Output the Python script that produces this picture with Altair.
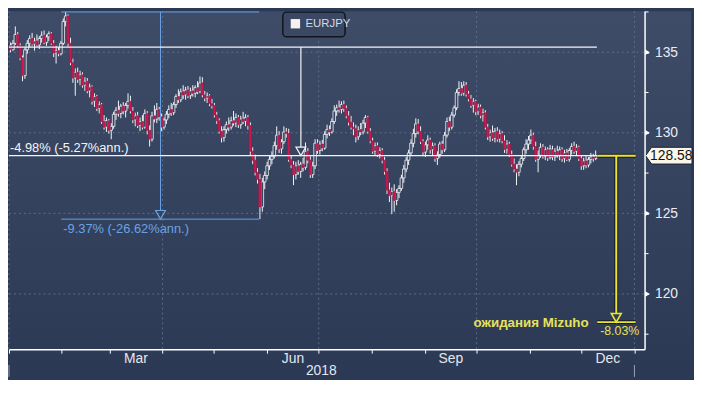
import altair as alt
import pandas as pd

# ---------------- data (EURJPY daily candles, 2018) ----------------
opens = [
    135.25,135.40,135.15,135.55,136.10,135.40,134.65,133.55,135.15,135.55,
    135.85,135.50,135.70,135.45,135.85,136.05,135.60,135.95,136.15,135.55,
    134.95,135.10,134.90,135.55,136.90,137.25,135.55,134.35,133.40,133.75,
    133.30,133.60,132.95,133.20,132.60,132.85,131.95,132.25,131.50,131.75,
    130.70,130.35,130.75,130.15,130.40,131.15,131.40,131.20,131.65,131.35,
    131.70,131.95,131.35,130.80,131.05,130.45,130.70,130.35,131.20,130.15,
    129.60,131.05,130.85,131.45,131.00,130.35,130.80,131.15,131.45,131.25,
    131.75,132.25,132.05,132.55,132.35,132.65,132.30,132.60,132.45,132.80,
    132.55,133.10,132.35,132.15,132.30,131.80,131.70,131.10,130.75,130.10,
    129.70,130.20,130.50,130.35,130.75,130.60,130.95,130.50,130.85,130.70,
    130.95,130.45,128.85,128.30,127.55,127.10,125.40,126.95,127.35,127.95,
    128.35,128.55,129.20,129.85,129.00,129.45,130.05,129.95,128.35,128.00,
    127.40,127.95,127.60,128.05,127.85,128.85,128.30,127.40,127.95,129.35,
    128.90,129.30,129.05,129.90,130.20,130.05,130.70,131.35,131.55,131.45,
    131.75,131.50,131.05,130.65,130.35,130.25,129.75,130.20,130.05,130.60,
    130.95,130.10,129.50,128.85,129.20,128.65,128.90,128.30,127.60,126.45,
    126.10,126.35,125.80,126.30,126.55,127.20,127.75,128.30,128.75,129.35,
    129.95,130.55,130.10,129.45,128.80,129.25,129.55,128.95,129.20,128.40,
    128.65,129.30,128.95,129.85,130.70,130.35,131.10,131.55,132.50,132.75,
    132.45,132.95,132.40,132.10,131.70,131.95,131.30,131.60,131.05,131.25,
    130.35,129.75,130.00,129.65,130.10,129.60,129.95,129.50,128.95,129.30,
    128.65,128.05,127.75,127.55,128.05,128.40,128.95,129.30,129.55,129.85,
    129.15,128.35,128.60,129.10,128.55,128.95,128.45,128.95,128.50,128.85,
    128.60,128.95,128.40,128.75,128.35,128.90,129.15,128.85,129.10,128.40,
    127.95,128.25,128.00,128.35,128.50,128.40,
]
highs = [
    135.55,135.60,135.75,136.60,136.25,135.55,134.80,135.30,135.75,136.05,
    136.20,135.90,136.10,136.00,136.30,136.35,136.10,136.30,136.25,135.75,
    135.40,135.30,135.70,137.10,137.50,137.35,135.90,134.60,134.00,134.05,
    133.85,133.75,133.45,133.40,133.05,132.95,132.45,132.35,131.95,131.85,
    131.10,130.95,130.85,130.60,131.30,131.60,132.00,131.80,131.90,131.85,
    132.45,132.30,131.60,131.25,131.30,130.95,131.10,131.45,131.35,130.45,
    131.30,131.70,131.85,131.60,131.20,130.95,131.35,131.70,131.85,131.90,
    132.40,132.70,132.75,132.95,132.85,132.90,132.80,132.95,132.95,133.20,
    133.50,133.45,132.60,132.50,132.40,132.10,131.85,131.30,130.90,130.40,
    130.40,130.70,130.95,131.00,131.35,131.20,131.10,131.05,131.30,131.15,
    131.10,130.65,129.10,128.65,127.80,127.45,127.20,127.60,128.20,128.55,
    128.85,129.45,130.40,130.10,129.60,130.40,130.30,130.25,128.60,128.25,
    128.20,128.30,128.20,128.45,129.40,129.05,128.55,128.20,129.60,129.60,
    129.50,129.55,130.10,130.50,130.45,130.90,131.70,131.75,132.00,131.95,
    132.00,131.70,131.35,131.05,130.65,130.50,130.40,130.60,130.80,131.10,
    131.05,130.30,129.70,129.40,129.40,129.10,129.05,128.50,127.80,126.90,
    126.60,126.80,126.50,126.75,127.40,128.00,128.50,128.95,129.60,130.25,
    130.90,130.85,130.40,129.60,129.45,129.85,129.70,129.40,129.35,128.85,
    129.45,129.50,130.05,130.95,131.00,131.30,131.70,132.70,133.20,133.15,
    133.20,133.15,132.60,132.35,132.15,132.05,131.80,131.75,131.50,131.40,
    130.55,130.20,130.45,130.30,130.35,130.20,130.10,129.85,129.55,129.45,
    128.90,128.40,128.05,128.25,128.60,129.10,129.60,129.80,130.20,130.00,
    129.45,128.90,129.35,129.30,129.15,129.10,129.25,129.20,129.05,129.20,
    129.15,129.10,128.95,129.00,129.05,129.35,129.45,129.30,129.20,128.60,
    128.45,128.55,128.50,128.75,128.70,128.90,
]
lows = [
    135.05,135.00,135.10,135.45,135.30,134.50,133.20,133.35,134.90,135.30,
    135.40,135.10,135.35,135.20,135.60,135.50,135.40,135.70,135.45,134.70,
    134.30,134.75,134.80,135.45,136.60,135.35,134.20,133.10,132.30,133.10,
    132.95,132.80,132.60,132.45,132.20,131.75,131.60,131.35,131.20,130.55,
    130.20,130.05,129.95,129.60,130.25,130.80,131.00,130.90,131.15,130.95,
    131.50,131.20,130.60,130.40,130.30,130.10,130.20,130.25,129.90,129.15,
    129.45,130.65,130.60,130.75,130.10,130.20,130.55,130.90,131.05,131.10,
    131.55,131.85,131.90,132.10,132.05,132.15,132.10,132.25,132.20,132.40,
    132.45,132.20,131.95,131.85,131.65,131.50,130.95,130.55,129.95,129.40,
    129.45,129.95,130.10,130.20,130.45,130.35,130.30,130.25,130.55,130.40,
    130.20,128.60,128.05,127.35,126.85,124.64,125.10,126.50,127.10,127.70,
    128.05,128.40,128.95,128.75,128.70,129.30,129.70,128.20,127.80,126.75,
    127.10,127.40,127.20,127.60,127.70,128.10,127.20,127.20,127.75,128.70,
    128.65,128.85,128.95,129.65,129.80,129.95,130.55,131.05,131.25,131.20,
    131.30,130.90,130.45,130.20,129.85,129.40,129.55,129.85,129.90,130.30,
    129.95,129.35,128.70,128.60,128.50,128.40,128.10,127.40,126.20,125.70,
    124.95,125.10,125.50,125.95,126.40,126.90,127.55,128.00,128.55,129.10,
    129.70,129.90,129.30,128.55,128.50,128.95,128.70,128.60,128.20,128.00,
    128.45,128.70,128.80,129.70,130.10,130.20,130.95,131.40,132.30,132.30,
    132.30,132.25,131.95,131.55,131.25,131.10,131.10,130.90,130.70,130.20,
    129.55,129.45,129.50,129.40,129.45,129.40,129.35,128.75,128.70,128.50,
    127.90,127.55,126.75,127.30,127.85,128.25,128.70,128.95,129.30,128.95,
    128.20,127.55,128.45,128.40,128.30,128.25,128.35,128.30,128.25,128.45,
    128.30,128.20,128.15,128.25,128.20,128.65,128.70,128.55,128.25,127.70,
    127.70,127.80,127.85,128.10,128.20,128.30,
]
closes = [
    135.40,135.15,135.55,136.10,135.40,134.65,133.55,135.15,135.55,135.85,
    135.50,135.70,135.45,135.85,136.05,135.60,135.95,136.15,135.55,134.95,
    135.10,134.90,135.55,136.90,137.25,135.55,134.35,133.40,133.75,133.30,
    133.60,132.95,133.20,132.60,132.85,131.95,132.25,131.50,131.75,130.70,
    130.35,130.75,130.15,130.40,131.15,131.40,131.20,131.65,131.35,131.70,
    131.95,131.35,130.80,131.05,130.45,130.70,130.35,131.20,130.15,129.60,
    131.05,130.85,131.45,131.00,130.35,130.80,131.15,131.45,131.25,131.75,
    132.25,132.05,132.55,132.35,132.65,132.30,132.60,132.45,132.80,132.55,
    133.10,132.35,132.15,132.30,131.80,131.70,131.10,130.75,130.10,129.70,
    130.20,130.50,130.35,130.75,130.60,130.95,130.50,130.85,130.70,130.95,
    130.45,128.85,128.30,127.55,127.10,125.40,126.95,127.35,127.95,128.35,
    128.55,129.20,129.85,129.00,129.45,130.05,129.95,128.35,128.00,127.40,
    127.95,127.60,128.05,127.85,128.85,128.30,127.40,127.95,129.35,128.90,
    129.30,129.05,129.90,130.20,130.05,130.70,131.35,131.55,131.45,131.75,
    131.50,131.05,130.65,130.35,130.25,129.75,130.20,130.05,130.60,130.95,
    130.10,129.50,128.85,129.20,128.65,128.90,128.30,127.60,126.45,126.10,
    126.35,125.80,126.30,126.55,127.20,127.75,128.30,128.75,129.35,129.95,
    130.55,130.10,129.45,128.80,129.25,129.55,128.95,129.20,128.40,128.65,
    129.30,128.95,129.85,130.70,130.35,131.10,131.55,132.50,132.75,132.45,
    132.95,132.40,132.10,131.70,131.95,131.30,131.60,131.05,131.25,130.35,
    129.75,130.00,129.65,130.10,129.60,129.95,129.50,128.95,129.30,128.65,
    128.05,127.75,127.55,128.05,128.40,128.95,129.30,129.55,129.85,129.15,
    128.35,128.60,129.10,128.55,128.95,128.45,129.00,128.50,128.85,128.60,
    128.95,128.40,128.75,128.35,128.90,129.15,128.85,129.10,128.40,127.95,
    128.25,128.00,128.35,128.50,128.40,128.58,
]

# axis / label values
month_start_days = [0.5, 31, 59, 90, 120, 151, 181, 212, 243, 273, 304, 334, 365]
quarter_days = [0.5, 90, 181, 273, 365]
month_labels = ["Mar", "Jun", "Sep", "Dec"]
month_label_days = [74.5, 166, 258, 349.5]
year_label = "2018"
year_label_day = 182.5
year_sep_days = [0.5, 365]
grid_prices = [120, 125, 130, 135]
minor_tick_prices = [117.5, 122.5, 127.5, 132.5, 137.5]

# annotations
blue_high, blue_low = 137.50, 124.64
blue_start, blue_end, blue_mid = 31.0, 146.2, 88.8
blue_text = "-9.37% (-26.62%ann.)"
white_start_price, last_price = 135.32, 128.58
white_start, white_end, white_mid = 0.5, 343.1, 170.6
white_text = "-4.98% (-5.27%ann.)"
target_price = 118.25
yellow_start, yellow_end, yellow_mid = 343.3, 365.7, 354.4
target_label = "ожидания Mizuho"
target_label_day = 338.3
target_pct = "-8.03%"
target_pct_day = 345.0
series_name = "EURJPY"
last_price_text = "128.58"

# ---------------- style ----------------
W, H = 643, 342
BOTTOM = 28
BG_TOP, BG_BOT = "#3f4c68", "#2c3955"
GRID = "#5c6c8a"
BLUE = "#69a3e4"
YELLOW = "#ebe531"
YELLOW_TXT = "#e6e15c"
WHITE = "#f4f4f6"
RED_FILL, RED_EDGE = "#c8184c", "#86204a"
AX_FONT = "Liberation Sans Narrow, Liberation Sans, Arial, sans-serif"
ANN_FONT = "Liberation Sans, Arial, sans-serif"
TRI_H = 0.53  # triangle height in price units

n = len(closes)
dates = pd.bdate_range("2018-01-01", periods=n)
df = pd.DataFrame({
    "date": dates.strftime("%Y-%m-%d"),
    "t": [i * 1.3975 for i in range(n)],
    "open": opens, "high": highs, "low": lows, "close": closes,
})
df["up"] = df["close"] >= df["open"]

xs = alt.Scale(domain=[0.5, 370.9], nice=False, zero=False, padding=0)
ys = alt.Scale(domain=[116.57, 137.55], nice=False, zero=False, padding=0)
x_axis = alt.Axis(values=month_start_days, labels=False, ticks=True, tickSize=4,
                  tickColor="#ffffff", tickWidth=1, domain=True, domainColor="#ffffff",
                  domainWidth=1.5, grid=False, title=None, zindex=2)
y_axis = alt.Axis(orient="right", values=grid_prices,
                  tickSize=4, tickColor="#ffffff", tickWidth=1, domain=True,
                  domainColor="#ffffff", domainWidth=1.5, grid=False, title=None,
                  labelColor="#e9ecf2", labelFont=AX_FONT, labelFontSize=14,
                  labelPadding=6, labelOverlap=False, zindex=2)


def X(f):
    return alt.X(f, type="quantitative", scale=xs, axis=x_axis)


def Y(f):
    return alt.Y(f, type="quantitative", scale=ys, axis=y_axis)


one = alt.Data(values=[{}])

bg = alt.Chart(one).mark_rect(
    fill=alt.Gradient(gradient="linear",
                      stops=[alt.GradientStop(color=BG_TOP, offset=0),
                             alt.GradientStop(color=BG_BOT, offset=1)],
                      x1=0, x2=0, y1=0, y2=1)
).encode(x=alt.value(0), x2=alt.value(690), y=alt.value(0), y2=alt.value(H + BOTTOM))

hgrid = alt.Chart(pd.DataFrame({"p": grid_prices})).mark_rule(
    color=GRID, strokeDash=[2, 3], strokeWidth=1
).encode(y=Y("p"), x=alt.value(0), x2=alt.value(W))

vgrid = alt.Chart(pd.DataFrame({"d": quarter_days})).mark_rule(
    color=GRID, strokeDash=[2, 3], strokeWidth=1
).encode(x=X("d"), y=alt.value(0), y2=alt.value(H))

minor_ticks = alt.Chart(pd.DataFrame({"p": minor_tick_prices})).mark_rule(
    color="#ffffff", strokeWidth=1
).encode(y=Y("p"), x=alt.value(W), x2=alt.value(W + 4))

wicks = alt.Chart(df).mark_rule(color=WHITE, strokeWidth=1, clip=True).encode(
    x=X("t"), y=Y("low"), y2="high")

up_bodies = alt.Chart(df).transform_filter("datum.up").mark_bar(
    size=2.6, fill="#36435f", stroke=WHITE, strokeWidth=0.8, clip=True
).encode(x=X("t"), y=Y("open"), y2="close")

down_bodies = alt.Chart(df).transform_filter("!datum.up").mark_bar(
    size=2.6, fill=RED_FILL, stroke=RED_EDGE, strokeWidth=0.6, clip=True
).encode(x=X("t"), y=Y("open"), y2="close")

# blue annotation
blue_lines = pd.DataFrame({
    "t": [blue_start, blue_start, blue_mid],
    "t2": [blue_end, blue_end, blue_mid],
    "y": [blue_high, blue_low, blue_high],
    "y2": [blue_high, blue_low, blue_low + TRI_H],
})
blue_rules = alt.Chart(blue_lines).mark_rule(color=BLUE, strokeWidth=1).encode(
    x=X("t"), x2="t2", y=Y("y"), y2="y2")
blue_tri = alt.Chart(pd.DataFrame({"t": [blue_mid], "y": [blue_low]})).mark_point(
    shape="triangle-down", filled=False, stroke=BLUE, strokeWidth=1.2, size=100,
    opacity=1, yOffset=-4.4
).encode(x=X("t"), y=Y("y"))
blue_lbl = alt.Chart(pd.DataFrame({"t": [blue_start], "y": [blue_low], "s": [blue_text]})).mark_text(
    align="left", baseline="middle", dx=2, dy=9.5, font=ANN_FONT, fontSize=13, color=BLUE
).encode(x=X("t"), y=Y("y"), text="s:N")

# white annotation
white_lines = pd.DataFrame({
    "t": [white_start, white_start, white_mid],
    "t2": [white_end, white_end, white_mid],
    "y": [white_start_price, last_price, white_start_price],
    "y2": [white_start_price, last_price, last_price + TRI_H],
})
white_rules = alt.Chart(white_lines).mark_rule(color=WHITE, strokeWidth=1.2).encode(
    x=X("t"), x2="t2", y=Y("y"), y2="y2")
white_tri = alt.Chart(pd.DataFrame({"t": [white_mid], "y": [last_price]})).mark_point(
    shape="triangle-down", filled=False, stroke=WHITE, strokeWidth=1.2, size=100,
    opacity=1, yOffset=-4.4
).encode(x=X("t"), y=Y("y"))
white_lbl = alt.Chart(pd.DataFrame({"t": [white_start], "y": [last_price], "s": [white_text]})).mark_text(
    align="left", baseline="middle", dx=1, dy=-7.5, font=ANN_FONT, fontSize=13, color=WHITE
).encode(x=X("t"), y=Y("y"), text="s:N")

# yellow (Mizuho) annotation
yellow_lines = pd.DataFrame({
    "t": [yellow_start, yellow_start, yellow_mid],
    "t2": [yellow_end, yellow_end, yellow_mid],
    "y": [last_price, target_price, last_price],
    "y2": [last_price, target_price, target_price + TRI_H],
})
yellow_shadow = alt.Chart(yellow_lines).mark_rule(color="#151a27", strokeWidth=4).encode(
    x=X("t"), x2="t2", y=Y("y"), y2="y2")
yellow_rules = alt.Chart(yellow_lines).mark_rule(color=YELLOW, strokeWidth=2).encode(
    x=X("t"), x2="t2", y=Y("y"), y2="y2")
yellow_tri = alt.Chart(pd.DataFrame({"t": [yellow_mid], "y": [target_price]})).mark_point(
    shape="triangle-down", filled=False, stroke=YELLOW, strokeWidth=1.6, size=100,
    opacity=1, yOffset=-4.4
).encode(x=X("t"), y=Y("y"))
yellow_lbl = alt.Chart(pd.DataFrame({"t": [target_label_day], "y": [target_price], "s": [target_label]})).mark_text(
    align="right", baseline="middle", dy=1, font=ANN_FONT, fontSize=13.5, fontWeight="bold",
    color=YELLOW_TXT
).encode(x=X("t"), y=Y("y"), text="s:N")
yellow_pct = alt.Chart(pd.DataFrame({"t": [target_pct_day], "y": [target_price], "s": [target_pct]})).mark_text(
    align="left", baseline="middle", dy=9, font=ANN_FONT, fontSize=12.5, color=YELLOW_TXT
).encode(x=X("t"), y=Y("y"), text="s:N")

# right axis decorations
axis_tri = alt.Chart(pd.DataFrame({"p": grid_prices})).mark_point(
    shape="triangle-right", filled=True, fill="#ffffff", stroke=None, size=30, opacity=1
).encode(x=alt.value(W + 3), y=Y("p"))

TAG = "M-1,0 L-0.74,-0.36 L1,-0.36 L1,0.36 L-0.74,0.36 Z"
tag = alt.Chart(pd.DataFrame({"p": [last_price]})).mark_point(
    shape=TAG, filled=True, fill="#fbf6ea", stroke="#1b2030", strokeWidth=1,
    size=2209, opacity=1
).encode(x=alt.value(W + 24.5), y=Y("p"))
tag_txt = alt.Chart(pd.DataFrame({"p": [last_price], "s": [last_price_text]})).mark_text(
    align="center", baseline="middle", font=AX_FONT, fontSize=14, color="#111111"
).encode(x=alt.value(W + 27), y=Y("p"), text="s:N")

# bottom labels
months = alt.Chart(pd.DataFrame({"d": month_label_days, "m": month_labels})).mark_text(
    baseline="middle", align="center", font=AX_FONT, fontSize=14, color="#e4e7ee"
).encode(x=X("d"), y=alt.value(H + 10), text="m:N")
year = alt.Chart(pd.DataFrame({"d": [year_label_day], "m": [year_label]})).mark_text(
    baseline="middle", align="center", font=AX_FONT, fontSize=14, color="#e4e7ee"
).encode(x=X("d"), y=alt.value(H + 22), text="m:N")
year_sep = alt.Chart(pd.DataFrame({"d": year_sep_days})).mark_rule(
    color="#9aa2b4", strokeWidth=1
).encode(x=X("d"), y=alt.value(H + 16), y2=alt.value(H + BOTTOM))

# legend box
leg_box = alt.Chart(one).mark_rect(
    fill="#3b4864", stroke="#10141d", strokeWidth=1.5, cornerRadius=4
).encode(x=alt.value(277), x2=alt.value(340), y=alt.value(1), y2=alt.value(26))
leg_sq = alt.Chart(one).mark_rect(fill="#f7f0ee").encode(
    x=alt.value(285), x2=alt.value(294.5), y=alt.value(8), y2=alt.value(17.5))
leg_txt = alt.Chart(pd.DataFrame({"s": [series_name]})).mark_text(
    align="left", baseline="middle", font=AX_FONT, fontSize=11.5, color="#d5d9e1"
).encode(x=alt.value(300), y=alt.value(13.5), text="s:N")

chart = alt.layer(
    bg, hgrid, vgrid, minor_ticks, wicks, up_bodies, down_bodies,
    blue_rules, blue_tri, blue_lbl,
    white_rules, white_tri, white_lbl,
    yellow_shadow, yellow_rules, yellow_tri, yellow_lbl, yellow_pct,
    axis_tri, tag, tag_txt, months, year, year_sep,
    leg_box, leg_sq, leg_txt,
).properties(
    width=W, height=H, background=BG_BOT,
    padding={"left": 0, "right": 0, "top": 0, "bottom": 0},
).configure_view(stroke=None)

chart.save("out.html", embed_options={"renderer": "svg", "actions": False})
